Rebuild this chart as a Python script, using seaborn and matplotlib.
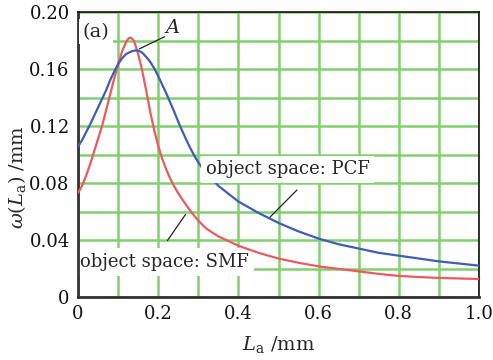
import numpy as np
import pandas as pd
import matplotlib
matplotlib.use("Agg")
import matplotlib.pyplot as plt
import seaborn as sns

# --- data ---
L_smf = [0.00, 0.01, 0.02, 0.03, 0.04, 0.05, 0.06, 0.07, 0.08, 0.09, 0.10, 0.11,
         0.12, 0.125, 0.13, 0.135, 0.14, 0.15, 0.16, 0.17, 0.18, 0.19, 0.20, 0.21,
         0.22, 0.23, 0.24, 0.25, 0.26, 0.27, 0.28, 0.29, 0.30, 0.32, 0.35, 0.40,
         0.45, 0.50, 0.55, 0.60, 0.65, 0.70, 0.75, 0.80, 0.85, 0.90, 0.95, 1.00]
w_smf = [0.073, 0.078, 0.085, 0.093, 0.102, 0.111, 0.120, 0.131, 0.142, 0.153,
         0.163, 0.1725, 0.179, 0.1812, 0.182, 0.1813, 0.1795, 0.1705, 0.159,
         0.145, 0.130, 0.117, 0.106, 0.097, 0.0895, 0.083, 0.0775, 0.0728, 0.0685,
         0.0645, 0.0605, 0.057, 0.0535, 0.048, 0.0425, 0.036, 0.031, 0.027, 0.024,
         0.0215, 0.0197, 0.018, 0.0162, 0.0148, 0.014, 0.0134, 0.013, 0.0126]

L_pcf = [0.00, 0.01, 0.02, 0.03, 0.04, 0.05, 0.06, 0.07, 0.08, 0.09, 0.10, 0.11,
         0.12, 0.13, 0.14, 0.15, 0.16, 0.17, 0.18, 0.19, 0.20, 0.21, 0.22, 0.23,
         0.24, 0.25, 0.26, 0.27, 0.28, 0.29, 0.30, 0.31, 0.32, 0.35, 0.40, 0.45,
         0.50, 0.55, 0.60, 0.65, 0.70, 0.75, 0.80, 0.85, 0.90, 0.95, 1.00]
w_pcf = [0.1055, 0.110, 0.1155, 0.121, 0.127, 0.133, 0.139, 0.145, 0.152, 0.158,
         0.1635, 0.1675, 0.1705, 0.172, 0.1729, 0.173, 0.1715, 0.1685, 0.165,
         0.1605, 0.155, 0.149, 0.143, 0.1365, 0.130, 0.123, 0.1165, 0.1103, 0.1045,
         0.0992, 0.0945, 0.0905, 0.087, 0.078, 0.067, 0.059, 0.052, 0.046, 0.041,
         0.037, 0.034, 0.031, 0.029, 0.027, 0.025, 0.0235, 0.022]

x_ticks = [0, 0.2, 0.4, 0.6, 0.8, 1.0]
x_ticklabels = ["0", "0.2", "0.4", "0.6", "0.8", "1.0"]
y_ticks = [0, 0.04, 0.08, 0.12, 0.16, 0.20]
y_ticklabels = ["0", "0.04", "0.08", "0.12", "0.16", "0.20"]

df = pd.concat([
    pd.DataFrame({"L": L_smf, "w": w_smf, "fiber": "SMF"}),
    pd.DataFrame({"L": L_pcf, "w": w_pcf, "fiber": "PCF"}),
], ignore_index=True)

sns.set_style("white")
plt.rcParams["font.family"] = ["DejaVu Serif"]
plt.rcParams["mathtext.fontset"] = "dejavuserif"

fig = plt.figure(figsize=(4.93, 3.60), dpi=100)
ax = fig.add_axes([78/493, 63/360, 401/493, 285/360])

sns.lineplot(data=df, x="L", y="w", hue="fiber",
             palette={"SMF": "#ec5a5f", "PCF": "#3f5cb8"},
             linewidth=1.6, legend=False, ax=ax, zorder=3)

ax.set_xlim(0, 1.0)
ax.set_ylim(0, 0.20)
ax.grid(True, color="#82cf6e", linewidth=1.8, zorder=0)
ax.set_axisbelow(True)
ax.set_xticks(x_ticks + [0.1, 0.3, 0.5, 0.7, 0.9])
ax.set_xticklabels(x_ticklabels + [""] * 5)
ax.set_yticks(y_ticks + [0.02, 0.06, 0.10, 0.14, 0.18])
ax.set_yticklabels(y_ticklabels + [""] * 5)
ax.tick_params(axis="both", length=0, labelsize=13, pad=6, colors="#111111")

for side in ["left", "bottom"]:
    ax.spines[side].set_color("#333333")
    ax.spines[side].set_linewidth(2.0)
for side in ["top", "right"]:
    ax.spines[side].set_color("#111111")
    ax.spines[side].set_linewidth(1.2)

ax.set_xlabel(r"$L_{\rm a}$ /mm", fontsize=14)
ax.set_ylabel(r"$\omega(L_{\rm a})$ /mm", fontsize=14)
ax.xaxis.set_label_coords(0.5, -0.13)
ax.yaxis.set_label_coords(-0.125, 0.42)

box = dict(facecolor="white", edgecolor="none", pad=2.5)
ax.text(0.012, 0.186, "(a)", fontsize=14, ha="left", va="center", zorder=5, bbox=box)
ax.text(0.237, 0.189, "A", fontsize=14, style="italic", ha="center", va="center", zorder=5)
ax.annotate("", xy=(0.147, 0.1733), xytext=(0.222, 0.1835),
            arrowprops=dict(arrowstyle="-", color="#222222", lw=0.9), zorder=5)

ax.text(0.318, 0.0895, "object space: PCF", fontsize=13, ha="left", va="center",
        zorder=5, bbox=dict(facecolor="white", edgecolor="none", pad=3.5))
ax.annotate("", xy=(0.474, 0.0547), xytext=(0.551, 0.0765),
            arrowprops=dict(arrowstyle="-", color="#222222", lw=0.9), zorder=5)

ax.text(0.006, 0.0245, "object space: SMF", fontsize=13, ha="left", va="center",
        zorder=2.5, bbox=dict(facecolor="white", edgecolor="none", pad=3.5))
ax.annotate("", xy=(0.272, 0.0595), xytext=(0.219, 0.038),
            arrowprops=dict(arrowstyle="-", color="#222222", lw=0.9), zorder=5)

fig.savefig("out.png", dpi=100)
